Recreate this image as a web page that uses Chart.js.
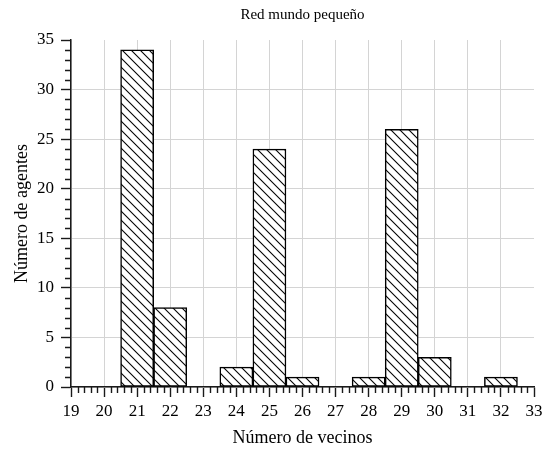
<!DOCTYPE html>
<html>
<head>
<meta charset="utf-8">
<script src="https://cdn.jsdelivr.net/npm/chart.js@4/dist/chart.umd.min.js"></script>
<style>
  html, body { margin: 0; padding: 0; background: #fff; }
  #wrap { width: 543px; height: 450px; }
</style>
</head>
<body>
<div id="wrap"><canvas id="c" width="543" height="450"></canvas></div>
<script>
// Histogram: number of neighbours per agent in a small-world network
const vecinos = [21, 22, 24, 25, 26, 28, 29, 30, 32];
const agentes = [34, 8, 2, 24, 1, 1, 26, 3, 1];

const xMin = 19, xMax = 33;
const yMin = 0, yMax = 35;

const FONT = "'Liberation Serif', 'Times New Roman', serif";
const INK = '#1a1a1a';
const GRID = '#d4d4d4';

// Diagonal "\\\" hatch on white, used as bar fill
function hatchPattern(step) {
  const t = document.createElement('canvas');
  t.width = step; t.height = step;
  const g = t.getContext('2d');
  g.fillStyle = '#fff';
  g.fillRect(0, 0, step, step);
  g.strokeStyle = '#000';
  g.lineWidth = 1.1;
  for (let k = -1; k <= 1; k++) {
    g.beginPath();
    g.moveTo(-1, -1 + k * step);
    g.lineTo(step + 1, step + 1 + k * step);
    g.stroke();
  }
  return g.createPattern(t, 'repeat');
}

// Short minor tick marks between the labelled ones
const minorTicks = {
  id: 'minorTicks',
  afterDraw(chart) {
    const { ctx, chartArea, scales } = chart;
    const len = 6;
    ctx.save();
    ctx.strokeStyle = INK;
    ctx.lineWidth = 1.4;
    ctx.beginPath();
    for (let i = xMin * 5; i <= xMax * 5; i++) {
      if (i % 5 === 0) continue;
      const px = Math.round(scales.x.getPixelForValue(i / 5)) + 0.5;
      ctx.moveTo(px, chartArea.bottom);
      ctx.lineTo(px, chartArea.bottom + len);
    }
    for (let v = yMin; v <= yMax; v++) {
      if (v % 5 === 0) continue;
      const py = Math.round(scales.y.getPixelForValue(v)) + 0.5;
      ctx.moveTo(chartArea.left - len, py);
      ctx.lineTo(chartArea.left, py);
    }
    ctx.stroke();
    ctx.restore();
  }
};

const ctx = document.getElementById('c').getContext('2d');
new Chart(ctx, {
  type: 'bar',
  data: {
    datasets: [{
      data: vecinos.map((v, i) => ({ x: v, y: agentes[i] })),
      backgroundColor: hatchPattern(9),
      borderColor: '#000',
      borderWidth: 1.5,
      borderSkipped: false,
      barPercentage: 1,
      categoryPercentage: 1
    }]
  },
  plugins: [minorTicks],
  options: {
    responsive: false,
    animation: false,
    layout: { padding: { left: 0, right: 0, top: 0, bottom: 0 } },
    plugins: {
      legend: { display: false },
      tooltip: { enabled: false },
      title: {
        display: true,
        text: 'Red mundo pequeño',
        fullSize: false,
        color: '#000',
        font: { family: FONT, size: 15, weight: 'normal' },
        padding: { top: 6, bottom: 16 }
      }
    },
    scales: {
      x: {
        type: 'linear',
        min: xMin,
        max: xMax,
        offset: false,
        grid: {
          offset: false,
          color: c => (c.tick && c.tick.value === xMax) ? 'rgba(0,0,0,0)' : GRID,
          lineWidth: 1,
          tickLength: 10,
          tickColor: INK,
          tickWidth: 1.4
        },
        border: { color: INK, width: 1.5 },
        ticks: {
          stepSize: 1,
          autoSkip: false,
          maxRotation: 0,
          padding: 4,
          color: '#000',
          font: { family: FONT, size: 17 }
        },
        title: {
          display: true,
          text: 'Número de vecinos',
          color: '#000',
          font: { family: FONT, size: 18 },
          padding: { top: 0, bottom: 1 }
        },
        afterFit(scale) {
          scale.height = 63;
          scale.paddingRight = 9;
        }
      },
      y: {
        min: yMin,
        max: yMax,
        grid: {
          color: c => (c.tick && c.tick.value === yMax) ? 'rgba(0,0,0,0)' : GRID,
          lineWidth: 1,
          tickLength: 10,
          tickColor: INK,
          tickWidth: 1.4
        },
        border: { color: INK, width: 1.5 },
        ticks: {
          stepSize: 5,
          padding: 7,
          color: '#000',
          font: { family: FONT, size: 17 }
        },
        title: {
          display: true,
          text: 'Número de agentes',
          color: '#000',
          font: { family: FONT, size: 18 },
          padding: { top: 11, bottom: 0 }
        },
        afterFit(scale) { scale.width = 71; }
      }
    }
  }
});
</script>
</body>
</html>
